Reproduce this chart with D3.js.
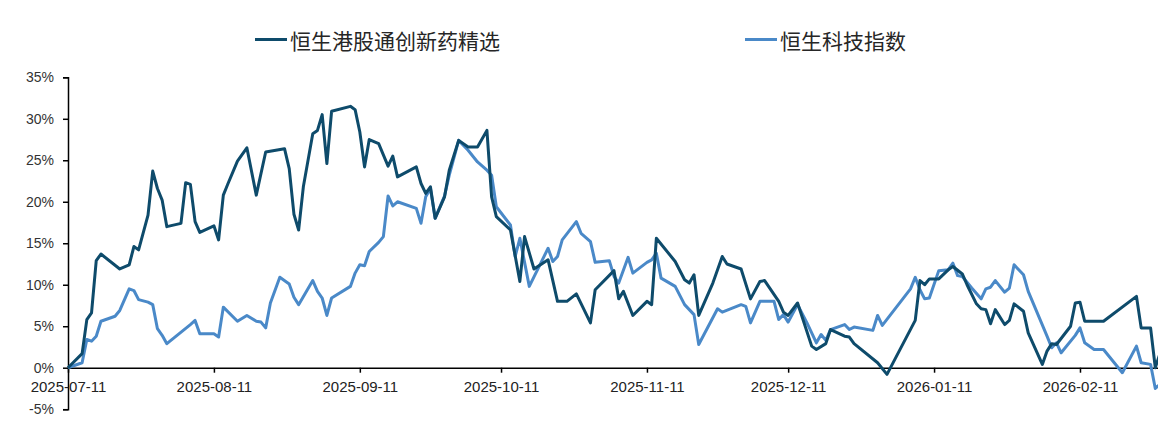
<!DOCTYPE html>
<html>
<head>
<meta charset="utf-8">
<script src="https://cdn.jsdelivr.net/npm/d3@7"></script>
<style>
  html, body { margin: 0; padding: 0; background: #ffffff; }
  svg { display: block; }
</style>
</head>
<body>
<svg id="chart" width="1158" height="436"></svg>
<script>
// ---------------- DATA ----------------
const seriesNames = ["恒生港股通创新药精选", "恒生科技指数"];

const darkDates = ["2025-07-11","2025-07-14","2025-07-15","2025-07-16","2025-07-17","2025-07-18","2025-07-22","2025-07-24","2025-07-25","2025-07-26",
"2025-07-28","2025-07-29","2025-07-30","2025-07-31","2025-08-01","2025-08-04","2025-08-05","2025-08-06","2025-08-07","2025-08-08",
"2025-08-11","2025-08-12","2025-08-13","2025-08-14","2025-08-16","2025-08-18","2025-08-20","2025-08-22","2025-08-26","2025-08-27",
"2025-08-28","2025-08-29","2025-08-30","2025-09-01","2025-09-02","2025-09-03","2025-09-04","2025-09-05","2025-09-09","2025-09-10",
"2025-09-11","2025-09-12","2025-09-13","2025-09-15","2025-09-17","2025-09-18","2025-09-19","2025-09-23","2025-09-24","2025-09-25",
"2025-09-26","2025-09-27","2025-09-29","2025-09-30","2025-10-02","2025-10-04","2025-10-06","2025-10-08","2025-10-09","2025-10-10",
"2025-10-13","2025-10-15","2025-10-16","2025-10-18","2025-10-21","2025-10-23","2025-10-25","2025-10-27","2025-10-30","2025-10-31",
"2025-11-04","2025-11-05","2025-11-06","2025-11-08","2025-11-11","2025-11-12","2025-11-13","2025-11-17","2025-11-19","2025-11-20",
"2025-11-21","2025-11-22","2025-11-25","2025-11-27","2025-11-28","2025-12-01","2025-12-03","2025-12-05","2025-12-06","2025-12-09",
"2025-12-10","2025-12-11","2025-12-13","2025-12-16","2025-12-17","2025-12-19","2025-12-20","2025-12-23","2025-12-24","2025-12-25",
"2025-12-30","2026-01-01","2026-01-07","2026-01-08","2026-01-09","2026-01-10","2026-01-12","2026-01-14","2026-01-15","2026-01-17",
"2026-01-18","2026-01-20","2026-01-21","2026-01-22","2026-01-23","2026-01-24","2026-01-26","2026-01-27","2026-01-28","2026-01-30",
"2026-01-31","2026-02-03","2026-02-04","2026-02-05","2026-02-06","2026-02-09","2026-02-10","2026-02-11","2026-02-12","2026-02-16",
"2026-02-23","2026-02-24","2026-02-26","2026-02-27","2026-02-28"];
const darkValues = [0.0,1.7,5.8,6.6,12.9,13.7,11.9,12.4,14.6,14.2,
18.4,23.7,21.6,20.2,17.0,17.4,22.3,22.1,17.6,16.3,
17.1,15.4,20.8,22.2,24.9,26.5,20.8,26.0,26.4,24.0,
18.5,16.6,21.8,28.2,28.6,30.5,24.6,30.9,31.5,31.1,
28.4,24.2,27.5,27.0,24.3,25.5,23.0,24.2,22.2,21.0,
21.8,18.0,20.6,23.8,27.4,26.6,26.6,28.6,20.6,18.2,
16.6,10.4,15.8,11.9,13.0,8.0,8.0,8.9,5.4,9.4,
11.7,8.3,9.2,6.3,8.0,7.6,15.6,12.8,10.6,10.2,
11.2,6.3,10.2,13.4,12.5,11.9,8.3,10.4,10.5,8.0,
6.7,6.3,7.8,2.6,2.2,2.9,4.6,3.8,3.7,2.9,
0.6,-0.8,5.7,10.5,10.0,10.7,10.7,11.8,12.2,11.3,
10.0,7.7,7.1,7.0,5.3,7.0,5.2,5.7,7.7,6.8,
4.2,0.4,2.0,2.9,2.8,5.0,7.8,7.9,5.6,5.6,
8.6,4.8,4.8,0.0,1.7];

const lightDates = ["2025-07-11","2025-07-14","2025-07-15","2025-07-16","2025-07-17","2025-07-18","2025-07-21","2025-07-22","2025-07-24","2025-07-25",
"2025-07-26","2025-07-28","2025-07-29","2025-07-30","2025-07-31","2025-08-01","2025-08-06","2025-08-07","2025-08-08","2025-08-11",
"2025-08-12","2025-08-13","2025-08-16","2025-08-18","2025-08-20","2025-08-21","2025-08-22","2025-08-23","2025-08-25","2025-08-27",
"2025-08-28","2025-08-29","2025-09-01","2025-09-02","2025-09-03","2025-09-04","2025-09-05","2025-09-09","2025-09-10","2025-09-11",
"2025-09-12","2025-09-13","2025-09-15","2025-09-16","2025-09-17","2025-09-18","2025-09-19","2025-09-23","2025-09-24","2025-09-25",
"2025-09-26","2025-09-27","2025-09-29","2025-09-30","2025-10-02","2025-10-04","2025-10-06","2025-10-08","2025-10-09","2025-10-10",
"2025-10-13","2025-10-14","2025-10-15","2025-10-17","2025-10-21","2025-10-22","2025-10-23","2025-10-24","2025-10-27","2025-10-28",
"2025-10-30","2025-10-31","2025-11-03","2025-11-04","2025-11-05","2025-11-07","2025-11-08","2025-11-11","2025-11-12","2025-11-13",
"2025-11-14","2025-11-17","2025-11-19","2025-11-21","2025-11-22","2025-11-26","2025-11-27","2025-12-01","2025-12-02","2025-12-03",
"2025-12-05","2025-12-08","2025-12-09","2025-12-10","2025-12-11","2025-12-13","2025-12-15","2025-12-17","2025-12-18","2025-12-19",
"2025-12-20","2025-12-23","2025-12-24","2025-12-25","2025-12-29","2025-12-30","2025-12-31","2026-01-06","2026-01-07","2026-01-08",
"2026-01-09","2026-01-10","2026-01-12","2026-01-14","2026-01-15","2026-01-16","2026-01-17","2026-01-19","2026-01-21","2026-01-22",
"2026-01-23","2026-01-24","2026-01-26","2026-01-27","2026-01-28","2026-01-30","2026-01-31","2026-02-04","2026-02-05","2026-02-06",
"2026-02-07","2026-02-10","2026-02-11","2026-02-12","2026-02-14","2026-02-16","2026-02-20","2026-02-23","2026-02-24","2026-02-26",
"2026-02-27","2026-02-28"];
const lightValues = [0.0,0.6,3.4,3.2,3.8,5.6,6.2,6.9,9.5,9.3,
8.2,7.9,7.6,4.7,3.9,2.9,5.2,5.7,4.1,4.1,
3.7,7.3,5.6,6.3,5.6,5.5,4.8,7.8,10.9,10.1,
8.5,7.6,10.5,9.2,8.4,6.3,8.4,9.8,11.4,12.4,
12.3,14.0,15.1,15.8,20.7,19.5,20.0,19.2,17.4,20.6,
21.6,18.0,20.7,23.2,27.4,26.2,24.8,23.8,23.2,19.4,
17.2,13.4,15.6,9.8,14.4,12.8,13.4,15.4,17.6,16.2,
15.2,12.7,12.9,11.0,10.2,13.3,11.4,12.7,13.0,13.8,
10.8,9.8,7.6,6.4,2.8,7.1,6.7,7.6,7.4,5.4,
8.0,8.0,5.8,6.4,5.5,7.6,5.4,3.0,4.0,3.3,
4.6,5.2,4.6,4.9,4.5,6.3,5.1,9.5,10.9,9.4,
8.3,8.4,11.7,11.8,12.6,11.1,11.0,9.6,8.3,9.5,
9.7,10.5,9.1,9.6,12.4,11.2,9.2,3.8,2.4,3.0,
1.8,3.9,4.8,3.0,2.2,2.2,-0.6,2.6,0.6,0.4,
-2.5,-2.0];

const xTickLabels = ["2025-07-11","2025-08-11","2025-09-11","2025-10-11","2025-11-11","2025-12-11","2026-01-11","2026-02-11"];
const yTickValues = [-5, 0, 5, 10, 15, 20, 25, 30, 35];
const xDomain = ["2025-07-11", "2026-02-28"];

// ---------------- DRAW ----------------
const parse = d3.timeParse("%Y-%m-%d");
const svg = d3.select("#chart");
svg.append("rect").attr("width", 1158).attr("height", 436).attr("fill", "#fff");

const x = d3.scaleTime().domain(xDomain.map(parse)).range([68, 1160]);
const y = d3.scaleLinear().domain([-5, 35]).range([409.2, 77.3]);

const colors = ["#0E4B6B", "#4A89C8"];
const labelFont = "'Liberation Sans', Arial, sans-serif";

// Y axis
const yAxis = svg.append("g").attr("transform", "translate(68,0)")
  .call(d3.axisLeft(y).tickValues(yTickValues).tickSize(5).tickPadding(9)
        .tickFormat(d => d + "%"));
yAxis.select(".domain").attr("stroke", "#000").attr("stroke-width", 1.5);
yAxis.selectAll(".tick line").attr("stroke", "#000").attr("stroke-width", 1.5);
yAxis.selectAll(".tick text").attr("fill", "#333").style("font-family", labelFont).style("font-size", "14px");

// X axis on zero line
const xAxis = svg.append("g").attr("transform", `translate(0,${y(0)})`)
  .call(d3.axisBottom(x).tickValues(xTickLabels.map(parse)).tickSize(5).tickSizeOuter(0)
        .tickFormat(d3.timeFormat("%Y-%m-%d")));
xAxis.select(".domain").attr("stroke", "#000").attr("stroke-width", 1.5);
xAxis.selectAll(".tick line").attr("stroke", "#000").attr("stroke-width", 1.5);
xAxis.selectAll(".tick text").attr("fill", "#222").attr("y", 13.5)
  .style("font-family", labelFont).style("font-size", "15px");

// Lines
const line = d3.line().x(d => x(d[0])).y(d => y(d[1])).curve(d3.curveLinear);
const darkData = darkDates.map((d, i) => [parse(d), darkValues[i]]);
const lightData = lightDates.map((d, i) => [parse(d), lightValues[i]]);

svg.append("path").datum(lightData).attr("d", line)
  .attr("fill", "none").attr("stroke", colors[1]).attr("stroke-width", 3)
  .attr("stroke-linejoin", "round");
svg.append("path").datum(darkData).attr("d", line)
  .attr("fill", "none").attr("stroke", colors[0]).attr("stroke-width", 3)
  .attr("stroke-linejoin", "round");

// Legend
const legendPos = [{lx: 255, tx: 290}, {lx: 745, tx: 780}];
seriesNames.forEach((name, i) => {
  const g = svg.append("g");
  g.append("line").attr("x1", legendPos[i].lx).attr("x2", legendPos[i].lx + 32)
    .attr("y1", 39.5).attr("y2", 39.5).attr("stroke", colors[i]).attr("stroke-width", 3);
  g.append("text").attr("x", legendPos[i].tx).attr("y", 40)
    .attr("dominant-baseline", "central")
    .style("font-family", "'Noto Sans CJK SC', 'Noto Sans', sans-serif")
    .style("font-size", "21px").attr("fill", "#262626").text(name);
});
</script>
</body>
</html>
